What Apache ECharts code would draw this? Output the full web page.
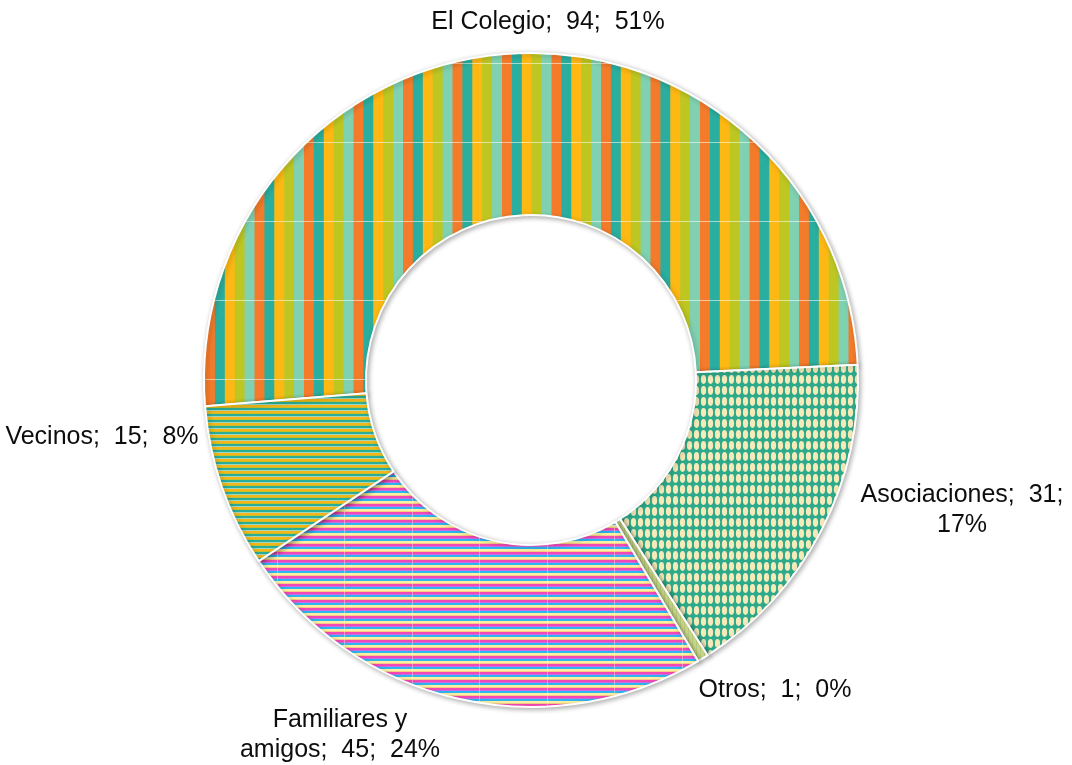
<!DOCTYPE html>
<html>
<head>
<meta charset="utf-8">
<script src="https://cdn.jsdelivr.net/npm/echarts@6/dist/echarts.min.js"></script>
<style>
  html, body { margin: 0; padding: 0; background: #ffffff; }
  #chart { width: 1072px; height: 765px; }
</style>
</head>
<body>
<div id="chart"></div>
<script>
// Where contacts came from: category, count, and the rounded share shown in the label
const categories = ['El Colegio', 'Asociaciones', 'Otros', 'Familiares y amigos', 'Vecinos'];
const values = [94, 31, 1, 45, 15];
const percentLabels = [51, 17, 0, 24, 8];

// Label text wraps after this many words (0 = single line)
const breakAfterWord = [0, 2, 0, 2, 0];
// Label anchor points (text centre) in pixels
const labelAnchors = [[548, 22], [962, 510], [775, 690], [340, 735], [102, 437]];

// ---- pattern tiles -------------------------------------------------------
function makeTile(w, h, draw) {
  const c = document.createElement('canvas');
  c.width = w; c.height = h;
  draw(c.getContext('2d'), w, h);
  return c;
}

// Vertical multi-colour stripes
const colegioTile = makeTile(99, 79, (g, w, h) => {
  const cols = ['#F47B2A', '#2AAE9F', '#FDB813', '#BEC722', '#7FD1B2'];
  const sw = 9.9;
  for (let k = -11; k < 11; k++) {
    g.fillStyle = cols[((k % 5) + 5) % 5];
    g.fillRect(7 + k * sw, 0, sw + 0.6, h);
  }
  g.fillStyle = 'rgba(255,255,255,0.55)';
  g.fillRect(0, 63, w, 1);
});

// Cream ovals on teal
const asociacionesTile = makeTile(7, 11, (g, w, h) => {
  g.fillStyle = '#2DAA8B';
  g.fillRect(0, 0, w, h);
  g.fillStyle = '#F6EAB9';
  g.beginPath();
  g.ellipse(3.5, 5.5, 2.6, 4.4, 0, 0, Math.PI * 2);
  g.fill();
});

// Pale yellow-green fine stripes
const otrosTile = makeTile(4, 4, (g, w, h) => {
  g.fillStyle = '#CFDE93';
  g.fillRect(0, 0, w, h);
  g.fillStyle = '#BFD27A';
  g.fillRect(0, 0, 1, h);
});

// Thin horizontal rainbow stripes
const familiaresTile = makeTile(135, 8, (g, w, h) => {
  const bands = [['#F548B6', 2], ['#C070E4', 1], ['#2FB5F2', 2], ['#FAF2A2', 2], ['#F9C985', 1]];
  let y = 0;
  bands.forEach(([c, t]) => { g.fillStyle = c; g.fillRect(0, y, w, t); y += t; });
  g.fillStyle = 'rgba(255,240,200,0.45)';
  g.fillRect(7, 0, 1, h);
  g.fillRect(74, 0, 1, h);
});

// Thin horizontal teal / gold stripes
const vecinosTile = makeTile(8, 6, (g, w, h) => {
  const bands = [['#2AAE9A', 2], ['#9ED8BE', 1], ['#F5B51C', 2], ['#C7BE2A', 1]];
  let y = 0;
  bands.forEach(([c, t]) => { g.fillStyle = c; g.fillRect(0, y, w, t); y += t; });
});

const tiles = [colegioTile, asociacionesTile, otrosTile, familiaresTile, vecinosTile];

// "name;  value;  pct%" (wide gap after each semicolon), optionally wrapped onto two lines
function labelText(i) {
  const words = `${categories[i]}; ${values[i]}; ${percentLabels[i]}%`.split(' ');
  const join = ws => ws.map((w, k) => (k < ws.length - 1 ? w + (w.endsWith(';') ? '  ' : ' ') : w)).join('');
  const n = breakAfterWord[i];
  if (!n) return join(words);
  return join(words.slice(0, n)) + '\n' + join(words.slice(n));
}

const chart = echarts.init(document.getElementById('chart'), null, { renderer: 'canvas' });

chart.setOption({
  animation: false,
  backgroundColor: '#ffffff',
  series: [{
    type: 'pie',
    center: [531, 380],
    radius: [165, 327],
    startAngle: 184.6,
    clockwise: true,
    avoidLabelOverlap: false,
    silent: true,
    itemStyle: {
      borderColor: '#ffffff',
      borderWidth: 2,
      shadowBlur: 5,
      shadowColor: 'rgba(0,0,0,0.3)',
      shadowOffsetX: 1.5,
      shadowOffsetY: 1.5
    },
    label: {
      show: true,
      position: 'outside',
      fontFamily: 'Liberation Sans, Arial, sans-serif',
      fontSize: 25,
      lineHeight: 30,
      color: '#0d0d0d',
      align: 'center',
      formatter: p => labelText(p.dataIndex)
    },
    labelLine: { show: false },
    labelLayout: p => ({
      x: labelAnchors[p.dataIndex][0],
      y: labelAnchors[p.dataIndex][1],
      align: 'center',
      verticalAlign: 'middle'
    }),
    emphasis: { disabled: true },
    data: categories.map((name, i) => ({
      name,
      value: values[i],
      itemStyle: { color: { image: tiles[i], repeat: 'repeat' } }
    }))
  }]
});
</script>
</body>
</html>
